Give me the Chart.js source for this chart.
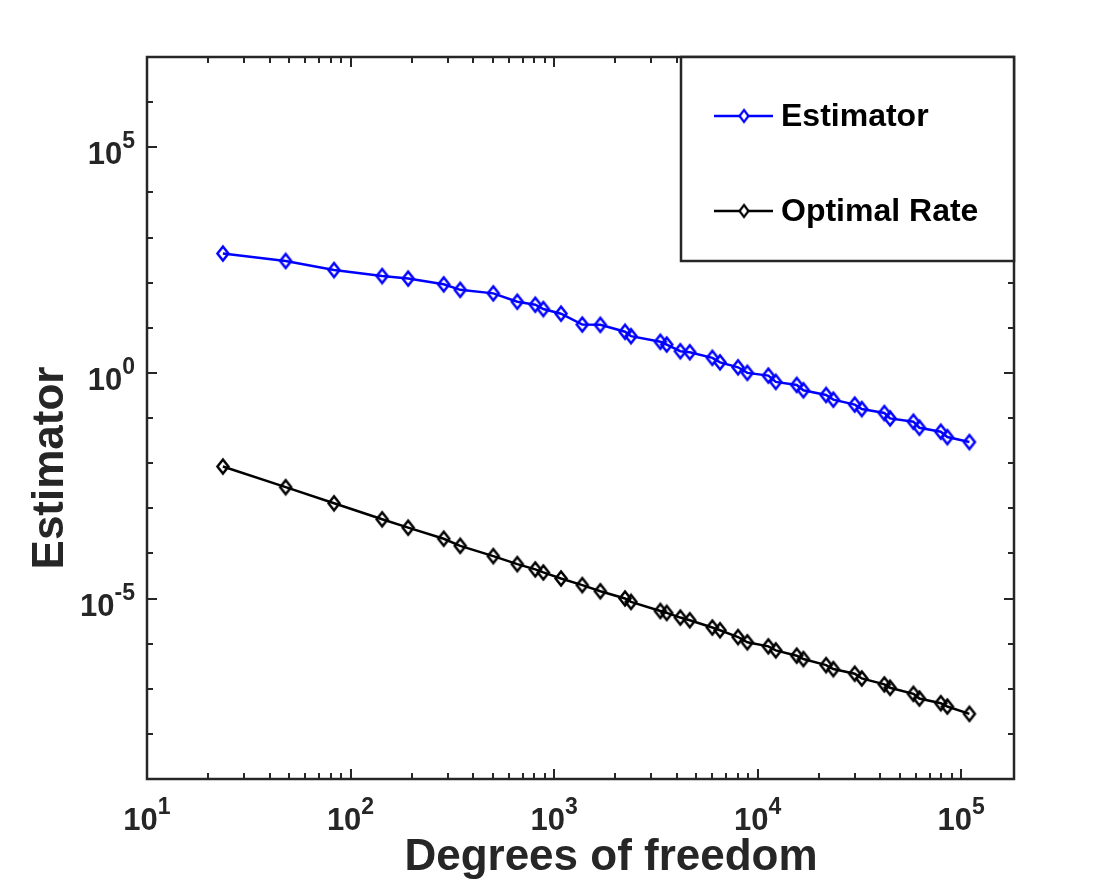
<!DOCTYPE html>
<html>
<head>
<meta charset="utf-8">
<script src="https://cdn.jsdelivr.net/npm/chart.js@4.4.1/dist/chart.umd.min.js"></script>
<style>
  html, body { margin: 0; padding: 0; background: #fff; }
  canvas { display: block; }
</style>
</head>
<body>
<canvas id="main-graph-canvas" width="1120" height="884"></canvas>
<script>
// values
const dof = [
  23.6, 48, 83, 143, 192, 287, 346, 503, 660, 809, 886, 1082, 1377, 1689,
  2233, 2390, 3330, 3579, 4174, 4644, 5998, 6543, 8021, 8912, 11300, 12290,
  15580, 16800, 21710, 23580, 30030, 32510, 41990, 44790, 58300, 62400,
  79470, 85640, 109860
]
const estimator = [
  441, 302, 190, 140, 123, 91.7, 69.2, 57.8, 37.8, 32.4, 26.0, 20.5, 11.8, 11.6,
  8.15, 6.51, 4.89, 4.25, 3.02, 2.87, 2.15, 1.71, 1.33, 1.0, 0.871, 0.631,
  0.541, 0.411, 0.324, 0.255, 0.198, 0.158, 0.129, 0.098, 0.0828, 0.0609,
  0.0496, 0.0378, 0.0293
]
const optimalRate = [
  8.4e-3, 2.93e-3, 1.29e-3, 5.70e-4, 3.71e-4, 2.11e-4, 1.47e-4, 8.7e-5, 5.78e-5,
  4.41e-5, 3.78e-5, 2.78e-5, 1.98e-5, 1.45e-5, 1.0e-5, 8.4e-6, 5.3e-6, 4.79e-6,
  3.78e-6, 3.3e-6, 2.27e-6, 1.98e-6, 1.40e-6, 1.07e-6, 8.7e-7, 7.1e-7, 5.41e-7,
  4.55e-7, 3.34e-7, 2.73e-7, 2.15e-7, 1.69e-7, 1.25e-7, 1.05e-7, 7.7e-8, 6.08e-8,
  4.79e-8, 4.04e-8, 2.78e-8
]
const seriesLabels = ['Estimator', 'Optimal Rate']
const seriesColors = ['#0000ff', '#000000']
const xTickExponents = [1, 2, 3, 4, 5]
const yTickExponents = [-5, 0, 5]
const xTitle = 'Degrees of freedom'
const yTitle = 'Estimator'

const FONT = '"Liberation Sans", Arial, Helvetica, sans-serif'
const AXIS_COLOR = '#262626'

// MATLAB style 'd' marker, a bit taller than wide
const makeDiamond = function (color, hw, hh, lw) {
  const c = document.createElement('canvas')
  c.width = Math.ceil(2 * hw + 2 * lw)
  c.height = Math.ceil(2 * hh + 2 * lw)
  const g = c.getContext('2d')
  const cx = c.width / 2
  const cy = c.height / 2
  g.strokeStyle = color
  g.lineWidth = lw
  g.lineJoin = 'miter'
  g.beginPath()
  g.moveTo(cx, cy - hh)
  g.lineTo(cx + hw, cy)
  g.lineTo(cx, cy + hh)
  g.lineTo(cx - hw, cy)
  g.closePath()
  g.stroke()
  return c
}

const drawPower = function (ctx, exp, x, y, align) {
  ctx.font = 'bold 31px ' + FONT
  const wb = ctx.measureText('10').width
  ctx.font = 'bold 23px ' + FONT
  const ws = ctx.measureText(String(exp)).width
  const total = wb + ws
  const start = align === 'right' ? x - total : x - total / 2
  ctx.textAlign = 'left'
  ctx.textBaseline = 'alphabetic'
  ctx.font = 'bold 31px ' + FONT
  ctx.fillText('10', start, y)
  ctx.font = 'bold 23px ' + FONT
  ctx.fillText(String(exp), start + wb, y - 16)
}

const matlabAxes = {
  id: 'matlabAxes',
  afterDraw(chart) {
    const ctx = chart.ctx
    const xs = chart.scales.x
    const ys = chart.scales.y
    const { left, right, top, bottom } = chart.chartArea
    ctx.save()
    ctx.strokeStyle = AXIS_COLOR
    ctx.fillStyle = AXIS_COLOR

    // tick marks, pointing inward, mirrored on top / right
    ctx.lineWidth = 2
    ctx.beginPath()
    for (let e = 1; e <= 6; e++) {
      for (let k = 1; k <= 9; k++) {
        const v = k * Math.pow(10, e)
        if (v < xs.min || v > xs.max) continue
        const px = Math.round(xs.getPixelForValue(v))
        const len = k === 1 ? 10 : 6
        ctx.moveTo(px, bottom)
        ctx.lineTo(px, bottom - len)
        ctx.moveTo(px, top)
        ctx.lineTo(px, top + len)
      }
    }
    for (let e = -9; e <= 7; e++) {
      const py = Math.round(ys.getPixelForValue(Math.pow(10, e)))
      const len = yTickExponents.includes(e) ? 10 : 6
      ctx.moveTo(left, py)
      ctx.lineTo(left + len, py)
      ctx.moveTo(right, py)
      ctx.lineTo(right - len, py)
    }
    ctx.stroke()

    // box
    ctx.lineWidth = 2.5
    ctx.strokeRect(left, top, right - left, bottom - top)

    // tick labels
    xTickExponents.forEach((e) => {
      drawPower(ctx, e, xs.getPixelForValue(Math.pow(10, e)), bottom + 51, 'center')
    })
    yTickExponents.forEach((e) => {
      drawPower(ctx, e, left - 12, ys.getPixelForValue(Math.pow(10, e)) + 17, 'right')
    })

    // axis titles
    ctx.font = 'bold 44px ' + FONT
    ctx.textAlign = 'center'
    ctx.textBaseline = 'alphabetic'
    ctx.fillText(xTitle, 611, 870)
    ctx.save()
    ctx.translate(63, 468)
    ctx.rotate(-Math.PI / 2)
    ctx.fillText(yTitle, 0, 0)
    ctx.restore()

    // legend box in the top right corner
    const lx = 681
    const ly = top
    const lw = right - lx
    const lh = 204
    ctx.fillStyle = '#ffffff'
    ctx.fillRect(lx, ly, lw, lh)
    ctx.lineWidth = 2.5
    ctx.strokeStyle = AXIS_COLOR
    ctx.strokeRect(lx, ly, lw, lh)
    const rows = [116, 211]
    chart.data.datasets.forEach((ds, i) => {
      const y = rows[i]
      ctx.strokeStyle = ds.borderColor
      ctx.lineWidth = 2.5
      ctx.beginPath()
      ctx.moveTo(714, y)
      ctx.lineTo(773, y)
      ctx.stroke()
      const m = makeDiamond(ds.borderColor, 4.5, 6, 2.2)
      ctx.fillStyle = '#ffffff'
      ctx.fillRect(744 - 3, y - 4, 6, 8)
      ctx.drawImage(m, 744 - m.width / 2, y - m.height / 2)
      ctx.fillStyle = '#000000'
      ctx.font = 'bold 32px ' + FONT
      ctx.textAlign = 'left'
      ctx.textBaseline = 'middle'
      ctx.fillText(ds.label, 781, y + 1)
    })
    ctx.restore()
  }
}

const buildDataset = function (values, i) {
  return {
    label: seriesLabels[i],
    data: dof.map((x, j) => ({ x, y: values[j] })),
    borderColor: seriesColors[i],
    backgroundColor: seriesColors[i],
    borderWidth: 2.5,
    pointStyle: makeDiamond(seriesColors[i], 5.5, 7, 2.5),
    pointRadius: 7,
    pointHoverRadius: 7
  }
}

const chart = new Chart(document.getElementById('main-graph-canvas').getContext('2d'), {
  type: 'line',
  data: {
    datasets: [buildDataset(estimator, 0), buildDataset(optimalRate, 1)]
  },
  options: {
    responsive: false,
    animation: false,
    layout: { padding: { left: 147, right: 106, top: 57, bottom: 105 } },
    elements: { line: { tension: 0 } },
    plugins: {
      legend: { display: false },
      tooltip: { enabled: false }
    },
    scales: {
      x: { type: 'logarithmic', min: 10, max: 182000, display: false },
      y: { type: 'logarithmic', min: 1e-9, max: 1e7, display: false }
    }
  },
  plugins: [matlabAxes]
})
</script>
</body>
</html>
